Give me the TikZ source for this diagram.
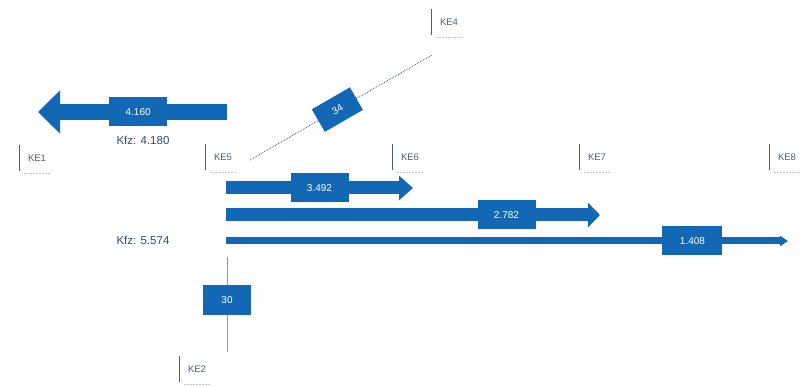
\documentclass[tikz,border=0pt]{standalone}
\usepackage{fontspec}
\setmainfont{Liberation Sans}
\usetikzlibrary{arrows.meta}
\definecolor{flow}{HTML}{1268B4}
\definecolor{lbl}{HTML}{4A5F78}
\definecolor{kfz}{HTML}{2C4C7C}
\definecolor{thin}{HTML}{8A96A3}
\begin{document}
\begin{tikzpicture}[x=1pt,y=-1pt,
  ke/.style={font=\fontsize{9.5}{11}\selectfont, text=lbl, inner sep=2pt, minimum height=26, minimum width=34},
  kebar/.style={draw=lbl, line width=1.2pt},
  keline/.style={draw=thin!50, densely dotted, line width=0.5pt},
  val/.style={fill=flow, text=white, font=\fontsize{10}{12}\selectfont, inner sep=0pt, minimum height=29, minimum width=58},
  kfzlbl/.style={font=\fontsize{11.5}{13}\selectfont, text=kfz, inner sep=1pt},
  flowarrow/.style={draw=flow, line width=#1}]
\useasboundingbox (0,0) rectangle (811,387);
\fill[white] (0,0) rectangle (811,387);

% KE labels
\node[ke] (ke4) at (449,22) {KE4};
\node[ke] (ke1) at (37,158) {KE1};
\node[ke] (ke5) at (223,157) {KE5};
\node[ke] (ke6) at (410,157) {KE6};
\node[ke] (ke7) at (597,157) {KE7};
\node[ke] (ke8) at (787,157) {KE8};
\node[ke] (ke2) at (197,369) {KE2};
\foreach \n in {ke4,ke1,ke5,ke6,ke7,ke8,ke2}{
  \draw[kebar] (\n.north west) -- (\n.south west);
  \draw[keline] ([xshift=4pt,yshift=-2pt]\n.south west) -- ([xshift=-4pt,yshift=-2pt]\n.south east);
}

% coordinates
\coordinate (a0s) at (227,112);
\coordinate (a0e) at (38,112);
\coordinate (a1s) at (226,188);
\coordinate (a1e) at (413,188);
\coordinate (a2s) at (226,215);
\coordinate (a2e) at (600,215);
\coordinate (a3s) at (226,241);
\coordinate (a3e) at (788,241);
\coordinate (ds) at (250,160);
\coordinate (de) at (432,55);
\coordinate (vs) at (227,257);
\coordinate (ve) at (227,352);

% flows
\draw[flowarrow=16pt, -{Triangle[length=22pt,width=42pt]}] (a0s) -- (a0e)
  node[val, pos=0.47] (v0) {4.160};
\draw[flowarrow=13pt, -{Triangle[length=14pt,width=24pt]}] (a1s) -- (a1e)
  node[val, pos=0.50] (v1) {3.492};
\draw[flowarrow=13pt, -{Triangle[length=12pt,width=24pt]}] (a2s) -- (a2e)
  node[val, pos=0.75] (v2) {2.782};
\draw[flowarrow=7pt, -{Triangle[length=8pt,width=10pt]}] (a3s) -- (a3e)
  node[val, pos=0.83, minimum width=60] (v3) {1.408};

% dotted diagonal
\draw[draw=lbl, densely dotted, line width=0.8pt] (ds) -- (de)
  node[val, pos=0.48, sloped, minimum width=44, minimum height=26] (v4) {34};

% vertical thin
\draw[draw=thin, line width=0.8pt] (vs) -- (ve)
  node[val, pos=0.45, minimum width=48, minimum height=30] (v5) {30};

% Kfz texts
\node[kfzlbl] (k1) at (143,140) {Kfz: 4.180};
\node[kfzlbl] (k2) at (143,240) {Kfz: 5.574};
\end{tikzpicture}
\end{document}
